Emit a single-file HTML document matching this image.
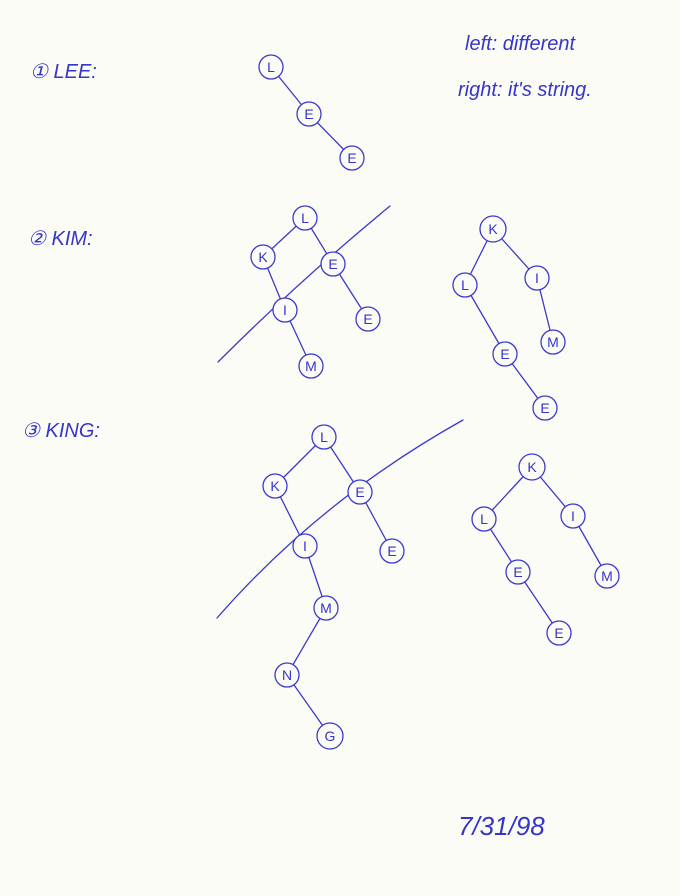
<!DOCTYPE html>
<html><head><meta charset="utf-8"><style>
html,body{margin:0;padding:0;background:#fcfcf7;}
svg{display:block}
text{font-family:"Liberation Sans",sans-serif;fill:#3535c8;}
</style></head><body>
<svg width="680" height="896" viewBox="0 0 680 896" xmlns="http://www.w3.org/2000/svg">
<rect width="680" height="896" fill="#fcfcf7"/>
<g stroke="#3a3acc" stroke-width="1.3" fill="none" stroke-linecap="round">
<!-- tree 1 -->
<line x1="271" y1="67" x2="309" y2="114"/><line x1="309" y1="114" x2="352" y2="158"/>
<!-- tree 2 left -->
<line x1="305" y1="218" x2="263" y2="257"/><line x1="305" y1="218" x2="333" y2="264"/>
<line x1="263" y1="257" x2="285" y2="310"/><line x1="285" y1="310" x2="311" y2="366"/>
<line x1="333" y1="264" x2="368" y2="319"/>
<path d="M218 362 Q300 280 390 206"/>
<!-- tree 2 right -->
<line x1="493" y1="229" x2="465" y2="285"/><line x1="493" y1="229" x2="537" y2="278"/>
<line x1="465" y1="285" x2="505" y2="354"/><line x1="505" y1="354" x2="545" y2="408"/>
<line x1="537" y1="278" x2="553" y2="342"/>
<!-- tree 3 left -->
<line x1="324" y1="437" x2="275" y2="486"/><line x1="324" y1="437" x2="360" y2="492"/>
<line x1="275" y1="486" x2="305" y2="546"/><line x1="360" y1="492" x2="392" y2="551"/>
<line x1="305" y1="546" x2="326" y2="608"/><line x1="326" y1="608" x2="287" y2="675"/>
<line x1="287" y1="675" x2="330" y2="736"/>
<path d="M217 618 Q320 500 463 420"/>
<!-- tree 3 right -->
<line x1="532" y1="467" x2="484" y2="519"/><line x1="532" y1="467" x2="573" y2="516"/>
<line x1="484" y1="519" x2="518" y2="572"/><line x1="518" y1="572" x2="559" y2="633"/>
<line x1="573" y1="516" x2="607" y2="576"/>
</g>
<g stroke="#3a3acc" stroke-width="1.3" fill="#fcfcf7">
<circle cx="271" cy="67" r="12"/><circle cx="309" cy="114" r="12"/><circle cx="352" cy="158" r="12"/>
<circle cx="305" cy="218" r="12"/><circle cx="263" cy="257" r="12"/><circle cx="333" cy="264" r="12"/>
<circle cx="285" cy="310" r="12"/><circle cx="368" cy="319" r="12"/><circle cx="311" cy="366" r="12"/>
<circle cx="493" cy="229" r="13"/><circle cx="465" cy="285" r="12"/><circle cx="537" cy="278" r="12"/>
<circle cx="505" cy="354" r="12"/><circle cx="553" cy="342" r="12"/><circle cx="545" cy="408" r="12"/>
<circle cx="324" cy="437" r="12"/><circle cx="275" cy="486" r="12"/><circle cx="360" cy="492" r="12"/>
<circle cx="305" cy="546" r="12"/><circle cx="392" cy="551" r="12"/><circle cx="326" cy="608" r="12"/>
<circle cx="287" cy="675" r="12"/><circle cx="330" cy="736" r="13"/>
<circle cx="532" cy="467" r="13"/><circle cx="484" cy="519" r="12"/><circle cx="573" cy="516" r="12"/>
<circle cx="518" cy="572" r="12"/><circle cx="607" cy="576" r="12"/><circle cx="559" cy="633" r="12"/>
</g>
<g font-size="14" text-anchor="middle">
<text x="271" y="72">L</text><text x="309" y="119">E</text><text x="352" y="163">E</text>
<text x="305" y="223">L</text><text x="263" y="262">K</text><text x="333" y="269">E</text>
<text x="285" y="315">I</text><text x="368" y="324">E</text><text x="311" y="371">M</text>
<text x="493" y="234">K</text><text x="465" y="290">L</text><text x="537" y="283">I</text>
<text x="505" y="359">E</text><text x="553" y="347">M</text><text x="545" y="413">E</text>
<text x="324" y="442">L</text><text x="275" y="491">K</text><text x="360" y="497">E</text>
<text x="305" y="551">I</text><text x="392" y="556">E</text><text x="326" y="613">M</text>
<text x="287" y="680">N</text><text x="330" y="741">G</text>
<text x="532" y="472">K</text><text x="484" y="524">L</text><text x="573" y="521">I</text>
<text x="518" y="577">E</text><text x="607" y="581">M</text><text x="559" y="638">E</text>
</g>
<g font-size="20" font-style="italic">
<text x="30" y="78">① LEE:</text>
<text x="28" y="245">② KIM:</text>
<text x="22" y="437">③ KING:</text>
<text x="465" y="50">left: different</text>
<text x="458" y="96">right: it's string.</text>
<text x="458" y="835" font-size="26">7/31/98</text>
</g>
</svg>
</body></html>
